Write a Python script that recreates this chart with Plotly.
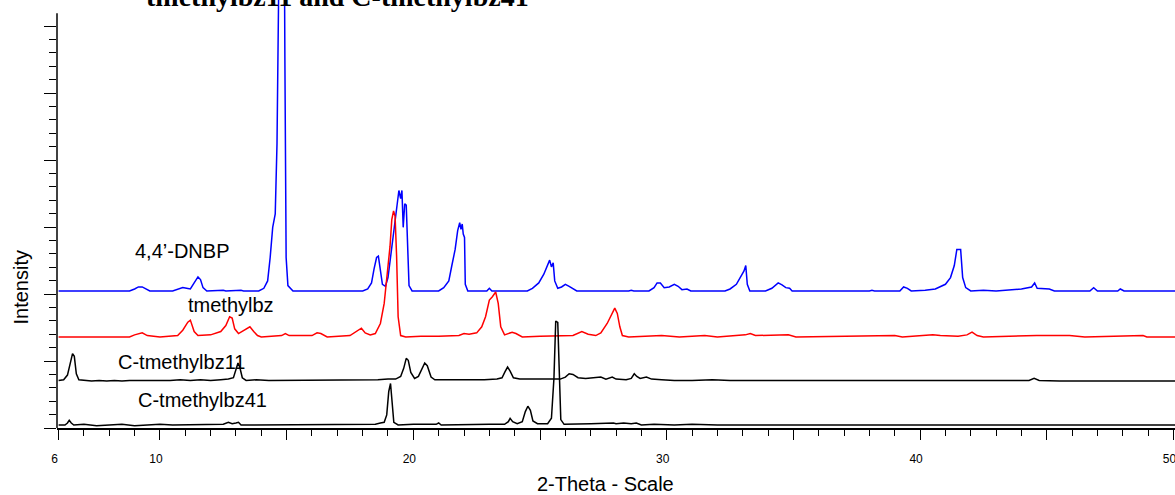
import plotly.graph_objects as go

# ---- data: (2-theta, relative intensity above each pattern's baseline) ----
dnbp_pts = [(6.0,0),(7.0,0.0),(8.8,0),(9.0,0.03),(9.15,0.06),(9.3,0.06),(9.45,0.03),(9.6,0),(10.5,0),(10.7,0.02),(10.9,0.05),(11.05,0.04),(11.2,0.03),(11.35,0.12),(11.5,0.21),(11.6,0.17),(11.7,0.05),(11.85,0.0),(12.5,0.01),(12.6,0),(13.2,0.01),(13.3,0),(13.9,0),(14.1,0.04),(14.25,0.15),(14.35,0.5),(14.45,0.95),(14.55,1.15),(14.62,2.2),(14.7,5.0),(14.78,7.5),(14.88,7.5),(14.93,3.5),(14.98,0.5),(15.05,0.08),(15.25,0.0),(16.5,0.0),(18.0,0),(18.2,0.03),(18.35,0.12),(18.45,0.33),(18.55,0.5),(18.62,0.52),(18.7,0.3),(18.78,0.1),(18.9,0.07),(19.0,0.2),(19.1,0.5),(19.2,0.8),(19.3,1.1),(19.38,1.3),(19.43,1.5),(19.5,1.38),(19.55,1.5),(19.6,0.95),(19.66,1.3),(19.72,1.28),(19.77,0.6),(19.83,0.08),(19.95,0.0),(21.0,0),(21.2,0.05),(21.4,0.15),(21.52,0.38),(21.65,0.62),(21.75,0.9),(21.83,1.02),(21.88,0.92),(21.93,1.0),(21.97,0.85),(22.02,0.8),(22.05,0.1),(22.15,0.0),(22.9,0.0),(23.0,0.04),(23.1,0.0),(24.5,0.0),(24.7,0.04),(24.95,0.12),(25.15,0.25),(25.3,0.4),(25.38,0.46),(25.45,0.36),(25.52,0.42),(25.58,0.15),(25.7,0.04),(25.85,0.06),(26.0,0.1),(26.15,0.07),(26.3,0.03),(26.45,0.0),(28.5,0),(28.6,0.01),(28.7,0),(29.3,0),(29.5,0.05),(29.62,0.12),(29.75,0.12),(29.9,0.05),(30.1,0.06),(30.3,0.1),(30.45,0.07),(30.6,0.02),(30.8,0.03),(30.95,0),(32.3,0),(32.5,0.03),(32.75,0.1),(32.95,0.22),(33.05,0.3),(33.12,0.38),(33.18,0.1),(33.28,0),(33.9,0),(34.15,0.04),(34.4,0.12),(34.55,0.09),(34.7,0.05),(34.85,0.04),(34.95,0),(38.0,0),(38.1,0.01),(38.2,0),(39.2,0),(39.35,0.06),(39.5,0.04),(39.65,0),(40.2,0.01),(40.6,0.03),(41.0,0.1),(41.2,0.2),(41.35,0.38),(41.45,0.62),(41.6,0.62),(41.68,0.2),(41.8,0.05),(42.0,0.0),(42.5,0.01),(43.0,0.0),(43.5,0.02),(44.0,0.03),(44.4,0.06),(44.52,0.12),(44.62,0.04),(44.9,0.03),(45.1,0.03),(45.3,0),(46.7,0),(46.85,0.05),(47.0,0),(47.8,0),(47.9,0.03),(48.05,0),(50.1,0)]

tmethylbz_pts = [(6.0,0),(8.8,0),(9.0,0.03),(9.3,0.06),(9.5,0.02),(10.0,0.0),(10.7,0.02),(10.9,0.1),(11.1,0.22),(11.2,0.25),(11.35,0.08),(11.5,0.02),(12.0,0.03),(12.4,0.08),(12.6,0.17),(12.75,0.3),(12.85,0.28),(12.95,0.12),(13.1,0.05),(13.4,0.12),(13.55,0.15),(13.7,0.08),(13.85,0.02),(14.0,0),(14.8,0.02),(14.95,0.05),(15.1,0.02),(16.0,0.02),(16.2,0.06),(16.35,0.05),(16.6,0),(17.5,0.02),(17.8,0.1),(17.95,0.13),(18.1,0.06),(18.3,0.03),(18.5,0.05),(18.7,0.2),(18.85,0.5),(19.0,1.0),(19.08,1.35),(19.15,1.75),(19.22,1.88),(19.28,1.8),(19.34,1.2),(19.4,0.3),(19.5,0.02),(19.7,0),(20.3,0.01),(21.0,0.01),(21.8,0.02),(22.0,0.05),(22.2,0.04),(22.5,0.06),(22.7,0.15),(22.85,0.3),(23.0,0.55),(23.12,0.6),(23.25,0.67),(23.35,0.5),(23.45,0.15),(23.6,0.03),(23.9,0.07),(24.05,0.05),(24.3,0.0),(25.0,0.01),(26.3,0.02),(26.65,0.08),(26.9,0.04),(27.2,0.02),(27.4,0.06),(27.65,0.2),(27.85,0.35),(27.95,0.43),(28.05,0.35),(28.15,0.15),(28.25,0.02),(28.5,0),(29.8,0.02),(30.5,0),(31.5,0.02),(32.0,0),(33.1,0.03),(33.3,0.05),(33.5,0.02),(34.6,0.02),(34.8,0.03),(35.1,0),(38.5,0.02),(38.8,0.03),(39.0,0.02),(39.3,0),(40.3,0.02),(40.5,0.03),(40.8,0.02),(41.5,0.01),(41.85,0.03),(42.05,0.07),(42.25,0.02),(42.5,0),(44.6,0.02),(44.9,0.02),(45.2,0.01),(45.9,0.02),(46.5,0),(48.8,0.02),(48.95,0),(50.1,0)]

c11_pts = [(6.0,0.0),(6.2,0.01),(6.35,0.08),(6.45,0.25),(6.55,0.4),(6.62,0.36),(6.7,0.1),(6.8,0.01),(7.0,0.0),(7.3,-0.01),(7.6,0.0),(7.9,-0.01),(8.2,0.0),(8.5,-0.01),(8.8,0.0),(9.2,0.0),(9.6,-0.01),(10.0,0.0),(10.4,0.0),(10.8,0.01),(11.2,0.0),(11.6,0.01),(12.0,0.0),(12.4,0.01),(12.7,0.02),(12.9,0.04),(13.0,0.18),(13.08,0.26),(13.15,0.2),(13.25,0.04),(13.4,0.0),(13.8,0.01),(14.3,0.0),(14.9,0.0),(15.5,0.01),(16.0,0.0),(16.8,0.0),(17.3,0.01),(18.0,0.0),(18.6,0.01),(19.0,0.02),(19.3,0.02),(19.5,0.06),(19.62,0.18),(19.72,0.33),(19.8,0.3),(19.9,0.12),(20.05,0.03),(20.2,0.06),(20.35,0.18),(20.45,0.26),(20.55,0.22),(20.7,0.05),(20.85,0.01),(21.3,0.01),(21.8,0.0),(22.3,0.01),(22.8,0.01),(23.3,0.02),(23.5,0.04),(23.62,0.13),(23.72,0.2),(23.82,0.14),(23.95,0.04),(24.2,0.02),(24.6,0.02),(25.2,0.01),(25.8,0.02),(26.0,0.05),(26.15,0.1),(26.3,0.09),(26.5,0.04),(26.8,0.03),(27.1,0.04),(27.4,0.05),(27.6,0.02),(27.85,0.05),(28.0,0.02),(28.4,0.01),(28.6,0.03),(28.72,0.1),(28.82,0.06),(28.95,0.03),(29.2,0.05),(29.4,0.02),(29.8,0.01),(30.3,0.0),(31.0,0.0),(31.8,0.01),(32.5,0.0),(33.5,0.0),(34.5,-0.01),(35.5,0.0),(36.5,-0.01),(37.5,0.0),(38.5,-0.01),(39.5,0.0),(40.5,-0.01),(41.5,0.0),(42.5,-0.01),(43.5,0.0),(44.3,0.0),(44.5,0.03),(44.7,0.0),(45.5,-0.01),(46.5,-0.01),(47.5,0.0),(48.5,-0.01),(49.5,-0.01),(50.1,-0.01)]

c41_pts = [(6.0,0.0),(6.25,0.0),(6.35,0.03),(6.42,0.07),(6.5,0.03),(6.6,0.0),(7.0,0.01),(7.5,-0.01),(8.0,0.0),(8.5,0.01),(9.0,-0.01),(9.5,0.0),(10.0,0.01),(10.5,0.0),(11.0,0.0),(11.5,0.01),(12.0,0.0),(12.5,0.01),(12.7,0.04),(12.85,0.02),(13.0,0.03),(13.1,0.04),(13.2,0.0),(13.6,0.0),(14.5,0.01),(15.5,0.0),(16.5,0.01),(17.5,0.0),(18.5,0.01),(18.7,0.03),(18.85,0.04),(18.95,0.15),(19.03,0.5),(19.1,0.62),(19.17,0.35),(19.23,0.04),(19.4,0.0),(20.0,0.01),(20.9,0.01),(21.0,0.03),(21.1,0.0),(22.0,0.01),(23.0,0.01),(23.6,0.01),(23.75,0.05),(23.82,0.1),(23.92,0.05),(24.1,0.02),(24.3,0.05),(24.42,0.2),(24.52,0.28),(24.62,0.22),(24.72,0.06),(24.9,0.02),(25.3,0.02),(25.45,0.1),(25.55,0.7),(25.62,1.55),(25.7,1.53),(25.76,0.8),(25.82,0.08),(25.95,0.01),(26.5,0.01),(27.0,0.02),(27.9,0.03),(28.0,0.02),(28.3,0.03),(28.6,0.02),(28.8,0.03),(29.0,0.0),(29.5,0.01),(30.3,0.0),(31.0,0.01),(32.0,0.0),(35.0,0.0),(38.0,0.0),(44.0,0.0),(50.1,0.0)]

# vertical stacking offsets of each pattern
offsets = {"dnbp": 2.045, "tmethylbz": 1.36, "c11": 0.71, "c41": 0.045}

series_names = ["4,4’-DNBP", "tmethylbz", "C-tmethylbz11", "C-tmethylbz41"]
label_x = [8.93, 11.03, 8.26, 9.05]
label_y = [2.64, 1.83, 0.99, 0.42]

x_tickvals = [6, 10, 15, 20, 25, 30, 35, 40, 45, 50]
x_ticktext = ["6", "10", "", "20", "", "30", "", "40", "", "50"]

title_text = "tmethylbz11 and C-tmethylbz41"

fig = go.Figure()

def add(pts, off, color):
    xs = [p[0] for p in pts]
    ys = [p[1] + off for p in pts]
    fig.add_trace(go.Scatter(x=xs, y=ys, mode="lines",
                             line=dict(color=color, width=1.5),
                             showlegend=False, hoverinfo="skip"))

add(dnbp_pts, offsets["dnbp"], "#0000FF")
add(tmethylbz_pts, offsets["tmethylbz"], "#FF0000")
add(c11_pts, offsets["c11"], "#000000")
add(c41_pts, offsets["c41"], "#000000")

for name, lx, ly in zip(series_names, label_x, label_y):
    fig.add_annotation(x=lx, y=ly, xref="x", yref="y", text=name, showarrow=False,
                       xanchor="left", yanchor="middle",
                       font=dict(family="Liberation Sans, Arial", size=20, color="black"))

# partially visible title line (cut at top of page, as in the reference)
fig.add_annotation(x=(337 - 57) / 1118, xref="paper", y=1 - 14 / 428, yref="paper",
                   text=f"<b>{title_text}</b>",
                   showarrow=False, xanchor="center", yanchor="bottom",
                   font=dict(family="Liberation Serif, Times New Roman", size=28, color="black"))

# axis titles
fig.add_annotation(x=(605 - 57) / 1118, xref="paper", y=-(484 - 428) / 428, yref="paper",
                   text="2-Theta - Scale", showarrow=False, xanchor="center", yanchor="middle",
                   font=dict(family="Liberation Sans, Arial", size=20, color="black"))
fig.add_annotation(x=-(57 - 20.5) / 1118, xref="paper", y=(428 - 288) / 428, yref="paper",
                   text="Intensity", showarrow=False, textangle=-90, xanchor="center", yanchor="middle",
                   font=dict(family="Liberation Sans, Arial", size=20, color="black"))

# y axis line (ends below top of plot area)
fig.add_shape(type="line", xref="paper", yref="y", x0=0, x1=0, y0=0, y1=6.19,
              line=dict(color="black", width=1.5), layer="above")

minor_y = [i * 0.2 for i in range(30) if i % 5 != 0]
minor_x = [v for v in range(7, 50) if v % 5 != 0]

fig.update_layout(
    width=1175, height=495,
    margin=dict(l=57, r=0, t=0, b=67),
    paper_bgcolor="white", plot_bgcolor="white",
    xaxis=dict(range=[5.937, 50.06], showgrid=False, zeroline=False, automargin=False,
               showline=True, linecolor="black", linewidth=1.5,
               tickmode="array", tickvals=x_tickvals, ticktext=x_ticktext,
               ticks="outside", ticklen=10, tickwidth=1, tickcolor="black",
               ticklabelstandoff=9, ticklabeloverflow="allow", ticklabelshift=-4,
               tickfont=dict(family="Liberation Sans, Arial", size=12, color="black"),
               minor=dict(tickmode="array", tickvals=minor_x, ticks="outside",
                          ticklen=6, tickwidth=1, tickcolor="black")),
    yaxis=dict(range=[0, 6.388], showgrid=False, zeroline=False, showline=False, automargin=False,
               tickmode="array", tickvals=[0, 1, 2, 3, 4, 5, 6], showticklabels=False,
               ticks="outside", ticklen=12, tickwidth=1, tickcolor="black",
               minor=dict(tickmode="array", tickvals=minor_y, ticks="outside",
                          ticklen=7, tickwidth=1, tickcolor="black")),
)

fig.write_html("out.html")
